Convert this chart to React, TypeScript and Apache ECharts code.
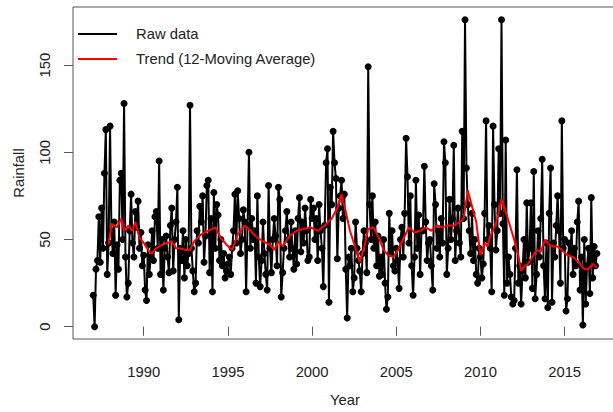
import { useEffect, useRef } from "react";
import * as echarts from "echarts";

const FONT = "'Liberation Sans', Arial, sans-serif";
const TEXT = "#222";
const BOX = "#555";

// monthly rainfall, Jan..Dec
const rain1987 = [18, 0, 33, 38, 63, 37, 68, 45, 88, 113, 30, 48];
const rain1988 = [115, 55, 42, 60, 18, 47, 33, 84, 88, 50, 128, 40];
const rain1989 = [17, 25, 55, 76, 48, 40, 66, 57, 72, 45, 54, 35];
const rain1990 = [41, 21, 15, 47, 30, 40, 55, 38, 63, 66, 45, 95];
const rain1991 = [30, 50, 21, 45, 52, 40, 31, 58, 68, 32, 50, 60];
const rain1992 = [80, 4, 45, 38, 55, 28, 50, 35, 42, 127, 45, 32];
const rain1993 = [20, 25, 55, 48, 69, 60, 75, 37, 52, 81, 84, 31];
const rain1994 = [62, 20, 77, 45, 70, 64, 38, 50, 35, 42, 28, 32];
const rain1995 = [36, 40, 30, 45, 55, 76, 48, 78, 62, 42, 50, 67];
const rain1996 = [60, 20, 58, 100, 45, 62, 50, 55, 25, 75, 40, 23];
const rain1997 = [38, 60, 42, 30, 21, 81, 45, 31, 50, 62, 52, 35];
const rain1998 = [80, 73, 17, 31, 45, 55, 66, 50, 40, 60, 45, 33];
const rain1999 = [55, 36, 62, 74, 43, 60, 48, 68, 55, 38, 40, 73];
const rain2000 = [62, 68, 50, 62, 38, 70, 55, 45, 23, 58, 94, 102];
const rain2001 = [14, 80, 70, 112, 94, 85, 39, 68, 75, 84, 62, 76];
const rain2002 = [33, 5, 40, 35, 45, 20, 28, 60, 45, 38, 32, 20];
const rain2003 = [42, 55, 48, 31, 149, 70, 50, 75, 45, 60, 35, 52];
const rain2004 = [29, 40, 30, 50, 25, 10, 17, 65, 42, 55, 35, 32];
const rain2005 = [45, 38, 22, 50, 57, 40, 65, 108, 86, 48, 75, 35];
const rain2006 = [18, 40, 84, 45, 64, 30, 55, 55, 92, 60, 38, 48];
const rain2007 = [50, 35, 21, 82, 70, 45, 55, 40, 62, 48, 106, 94];
const rain2008 = [30, 45, 73, 50, 62, 104, 38, 55, 68, 48, 40, 112];
const rain2009 = [62, 176, 91, 70, 55, 42, 65, 38, 50, 30, 25, 45];
const rain2010 = [40, 28, 36, 65, 118, 50, 58, 45, 20, 115, 70, 44];
const rain2011 = [55, 102, 65, 176, 59, 18, 107, 25, 40, 30, 17, 13];
const rain2012 = [15, 45, 90, 25, 35, 13, 32, 50, 28, 71, 37, 45];
const rain2013 = [71, 22, 89, 16, 30, 55, 40, 62, 96, 35, 16, 48];
const rain2014 = [11, 65, 91, 14, 48, 40, 58, 75, 55, 25, 118, 45];
const rain2015 = [50, 9, 16, 48, 42, 55, 30, 45, 35, 60, 72, 21];
const rain2016 = [40, 1, 50, 13, 35, 45, 19, 74, 28, 46, 35, 42];

const START_YEAR = 1987;
const rawData = [
  rain1987, rain1988, rain1989, rain1990, rain1991, rain1992, rain1993, rain1994, rain1995, rain1996,
  rain1997, rain1998, rain1999, rain2000, rain2001, rain2002, rain2003, rain2004, rain2005, rain2006,
  rain2007, rain2008, rain2009, rain2010, rain2011, rain2012, rain2013, rain2014, rain2015, rain2016,
].flat();

// red trend line, read at months counted from Jan 1987
const trendMonths = [
  11, 13, 15, 17, 20, 22, 25, 28, 30, 33, 37, 40, 42, 45, 49, 53, 56, 59, 62, 66, 69, 72, 77, 82, 87, 91, 95,
  99, 103, 108, 112, 117, 121, 126, 129, 132, 135, 140, 145, 150, 155, 160, 165, 170, 174, 177, 180, 183, 187,
  190, 193, 196, 200, 204, 207, 210, 214, 218, 222, 225, 229, 233, 237, 241, 245, 249, 253, 257, 261, 264, 267,
  270, 273, 276, 279, 281, 283, 285, 288, 291, 294, 297, 300, 303, 305, 308, 310, 313, 316, 319, 322, 325, 328,
  331, 334, 338, 342, 346, 350, 353, 356, 359,
];
const trendValues = [
  47, 59, 58, 57, 62, 55, 58, 55, 60, 51, 47, 43, 42, 45, 47, 48, 49, 45, 45, 44, 44, 49, 53, 55, 57, 51, 47,
  44, 53, 58, 55, 51, 49, 47, 44, 49, 46, 52, 55, 56, 57, 55, 58, 62, 68, 76, 66, 55, 45,
  37, 45, 56, 57, 50, 44, 41, 40, 45, 52, 57, 54, 55, 57, 55, 58, 57, 58, 58, 60, 62, 78,
  69, 60, 41, 48, 46, 52, 55, 62, 73, 66, 58, 50, 41, 32, 35, 36, 40, 44, 43, 50, 47, 46,
  46, 44, 41, 40, 37, 33, 33, 36, 34,
];

const yearTicks = [1990, 1995, 2000, 2005, 2010, 2015];
const rainTicks = [0, 50, 100, 150];

export default function App() {
  const elRef = useRef<HTMLDivElement>(null);

  useEffect(() => {
    const el = elRef.current;
    if (!el) return;
    const chart = echarts.init(el, undefined, { renderer: "svg" });

    const rawPoints = rawData.map((v, i) => [START_YEAR + i / 12, v]);
    const trendPoints = trendMonths.map((m, i) => [START_YEAR + m / 12, trendValues[i]]);

    chart.setOption({
      animation: false,
      textStyle: { fontFamily: FONT },
      grid: { left: 73, right: 8, top: 7, bottom: 69, show: true, borderColor: BOX, borderWidth: 1 },
      xAxis: {
        type: "value",
        min: 1985.8,
        max: 2018.11,
        name: "Year",
        nameLocation: "middle",
        nameGap: 53,
        nameTextStyle: { color: TEXT, fontSize: 14.8, fontFamily: FONT },
        axisLine: { show: false },
        axisTick: { show: true, length: 9, customValues: yearTicks, lineStyle: { color: BOX } },
        axisLabel: {
          customValues: yearTicks,
          formatter: (v: number) => String(v),
          margin: 25,
          color: TEXT,
          fontSize: 14.8,
          fontFamily: FONT,
        },
        splitLine: { show: false },
      },
      yAxis: {
        type: "value",
        min: -7.04,
        max: 183.3,
        name: "Rainfall",
        nameLocation: "middle",
        nameGap: 47,
        nameRotate: 90,
        nameTextStyle: { color: TEXT, fontSize: 14.8, fontFamily: FONT },
        axisLine: { show: false },
        axisTick: { show: true, length: 9, customValues: rainTicks, lineStyle: { color: BOX } },
        axisLabel: {
          customValues: rainTicks,
          formatter: (v: number) => String(v),
          rotate: 90,
          margin: 21,
          color: TEXT,
          fontSize: 14.8,
          fontFamily: FONT,
        },
        splitLine: { show: false },
      },
      graphic: [
        { type: "line", shape: { x1: 78, y1: 34, x2: 117, y2: 34 }, style: { stroke: "#000", lineWidth: 2 } },
        { type: "text", x: 136, y: 34, style: { text: "Raw data", fill: TEXT, font: `14.8px ${FONT}`, verticalAlign: "middle" } },
        { type: "line", shape: { x1: 78, y1: 59, x2: 117, y2: 59 }, style: { stroke: "#ff0000", lineWidth: 2 } },
        {
          type: "text",
          x: 136,
          y: 59,
          style: { text: "Trend (12-Moving Average)", fill: TEXT, font: `14.8px ${FONT}`, verticalAlign: "middle" },
        },
      ],
      series: [
        {
          name: "Raw data",
          type: "line",
          data: rawPoints,
          symbol: "circle",
          symbolSize: 7,
          showAllSymbol: true,
          itemStyle: { color: "#000" },
          lineStyle: { color: "#000", width: 2 },
          z: 2,
        },
        {
          name: "Trend (12-Moving Average)",
          type: "line",
          data: trendPoints,
          symbol: "none",
          lineStyle: { color: "#ff0000", width: 2 },
          z: 3,
        },
      ],
    });

    return () => chart.dispose();
  }, []);

  return (
    <div style={{ position: "fixed", left: 0, top: 0, width: 613, height: 412, overflow: "hidden", background: "#fff" }}>
      <div ref={elRef} style={{ width: 625, height: 412 }} />
    </div>
  );
}
